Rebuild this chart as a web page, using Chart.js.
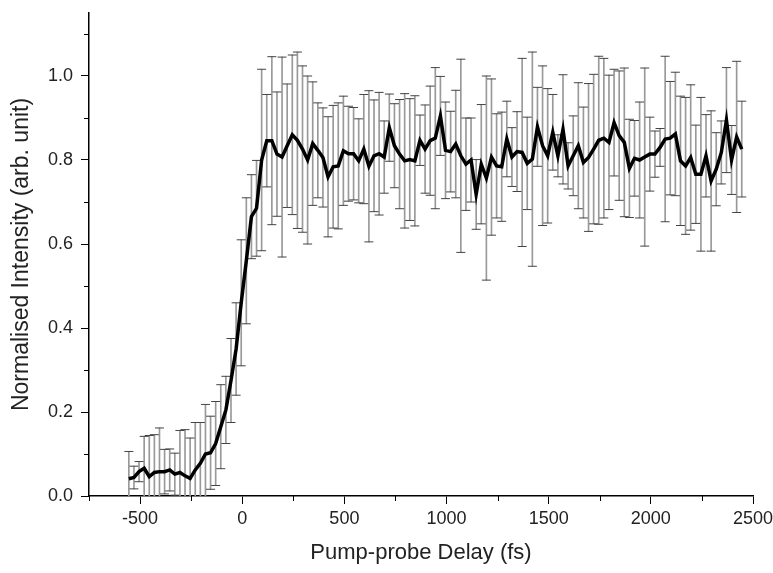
<!DOCTYPE html>
<html>
<head>
<meta charset="utf-8">
<script src="https://cdn.jsdelivr.net/npm/chart.js@4.4.1/dist/chart.umd.min.js"></script>
<style>
html,body{margin:0;padding:0;background:#fff;}
canvas{display:block;}
</style>
</head>
<body>
<canvas id="c" width="773" height="573"></canvas>
<script>
// Pump-probe delay (fs)
const delays = [-555,-530,-505,-480,-455,-430,-405,-380,-355,-330,-305,-280,-255,-230,-205,-180,-155,-130,-105,-80,
  -55,-30,-5,20,45,70,95,120,145,170,195,220,245,270,295,320,345,370,395,420,
  445,470,495,520,545,570,595,620,645,670,695,720,745,770,795,820,845,870,895,920,
  945,970,995,1020,1045,1070,1095,1120,1145,1170,1195,1220,1245,1270,1295,1320,1345,1370,1395,1420,
  1445,1470,1495,1520,1545,1570,1595,1620,1645,1670,1695,1720,1745,1770,1795,1820,1845,1870,1895,1920,
  1945,1970,1995,2020,2045,2070,2095,2120,2145,2170,2195,2220,2245,2270,2295,2320,2345,2370,2395,2420,2445];
// Normalised intensity (arb. unit)
const intensity = [0.041,0.044,0.058,0.066,0.046,0.056,0.058,0.058,0.062,0.052,0.056,0.048,0.042,0.062,0.078,0.100,0.103,0.125,0.165,0.205,
  0.275,0.350,0.460,0.560,0.665,0.685,0.800,0.846,0.846,0.814,0.807,0.834,0.860,0.847,0.826,0.800,0.839,0.823,0.806,0.760,
  0.784,0.786,0.822,0.815,0.815,0.798,0.826,0.785,0.810,0.815,0.807,0.877,0.834,0.814,0.798,0.801,0.798,0.847,0.826,0.846,
  0.852,0.905,0.823,0.820,0.838,0.810,0.790,0.800,0.718,0.790,0.757,0.807,0.786,0.784,0.850,0.807,0.820,0.818,0.792,0.802,
  0.879,0.834,0.810,0.866,0.810,0.873,0.786,0.810,0.834,0.794,0.806,0.826,0.847,0.852,0.842,0.889,0.858,0.842,0.780,0.804,
  0.800,0.807,0.814,0.814,0.830,0.850,0.852,0.862,0.798,0.786,0.806,0.766,0.766,0.810,0.750,0.778,0.818,0.895,0.800,0.855,0.826];
// Error (+/-)
const errors = [0.065,0.027,0.024,0.076,0.098,0.090,0.104,0.053,0.050,0.050,0.100,0.110,0.096,0.113,0.097,0.118,0.087,0.100,0.100,0.080,
  0.100,0.110,0.150,0.150,0.100,0.114,0.216,0.110,0.200,0.148,0.238,0.147,0.190,0.210,0.198,0.200,0.147,0.113,0.118,0.143,
  0.146,0.150,0.130,0.113,0.110,0.100,0.130,0.180,0.133,0.146,0.086,0.080,0.100,0.130,0.160,0.145,0.155,0.060,0.105,0.130,
  0.168,0.094,0.115,0.096,0.128,0.230,0.110,0.100,0.083,0.142,0.243,0.186,0.124,0.130,0.090,0.070,0.095,0.224,0.110,0.255,
  0.094,0.190,0.160,0.090,0.050,0.130,0.055,0.095,0.150,0.132,0.176,0.178,0.200,0.190,0.160,0.127,0.154,0.177,0.117,0.090,
  0.138,0.212,0.088,0.055,0.045,0.197,0.135,0.147,0.154,0.163,0.173,0.117,0.183,0.098,0.167,0.087,0.075,0.125,0.082,0.180,0.114];

const xTickValues = [-500,0,500,1000,1500,2000,2500];
const xMinorValues = [-750,-250,250,750,1250,1750,2250];
const yTickValues = [0,0.2,0.4,0.6,0.8,1.0];
const yMinorValues = [0.1,0.3,0.5,0.7,0.9,1.1];

const meanPts = delays.map((d,i)=>({x:d, y:intensity[i]}));
const barPts = delays.map((d,i)=>({x:d, y:[intensity[i]-errors[i], intensity[i]+errors[i]]}));
const capPts = delays.flatMap((d,i)=>[{x:d, y:intensity[i]-errors[i]},{x:d, y:intensity[i]+errors[i]}]);

Chart.defaults.font.family = "'Liberation Sans', Arial, sans-serif";
Chart.defaults.color = '#222';

const minorTicks = {
  id:'minorTicks',
  afterDraw(chart){
    const {ctx, scales:{x, y}} = chart;
    ctx.save();
    ctx.strokeStyle = '#000';
    ctx.lineWidth = 1;
    ctx.beginPath();
    xMinorValues.forEach(v=>{
      const px = Math.round(x.getPixelForValue(v)) + 0.5;
      ctx.moveTo(px, x.top); ctx.lineTo(px, x.top + 5);
    });
    yMinorValues.forEach(v=>{
      const py = Math.round(y.getPixelForValue(v)) + 0.5;
      ctx.moveTo(y.right, py); ctx.lineTo(y.right - 5, py);
    });
    ctx.stroke();
    ctx.restore();
  }
};

new Chart(document.getElementById('c'), {
  type: 'scatter',
  data: {
    datasets: [
      {type:'line', data: meanPts, showLine:true, borderColor:'#000', borderWidth:3.5, pointRadius:0, tension:0, order:0, clip:0},
      {type:'scatter', data: capPts, pointStyle:'line', pointRadius:4.5, borderColor:'#444', borderWidth:1, backgroundColor:'#444', order:1, clip:0},
      {type:'bar', data: barPts, backgroundColor:'#999', borderWidth:0, barThickness:1, grouped:false, order:2, clip:0}
    ]
  },
  options: {
    responsive:false,
    animation:false,
    devicePixelRatio:1,
    layout:{padding:{left:0, right:20, top:13, bottom:0}},
    plugins:{legend:{display:false}, tooltip:{enabled:false}},
    scales:{
      x:{
        type:'linear', min:-750, max:2500, offset:false,
        afterBuildTicks: s => { s.ticks = xTickValues.map(v=>({value:v})); },
        afterFit: s => { s.height = 77; s.paddingLeft = 0; s.paddingRight = 0; },
        grid:{display:true, drawOnChartArea:false, drawTicks:true, tickLength:8, tickColor:'#000', tickWidth:1, offset:false},
        border:{display:true, color:'#000', width:1.5},
        ticks:{font:{size:18}, color:'#222', padding:4, maxRotation:0, autoSkip:false, callback: v => String(v)},
        title:{display:true, text:'Pump-probe Delay (fs)', font:{size:22}, color:'#222', padding:{top:0, bottom:7}}
      },
      y:{
        type:'linear', min:0, max:1.15,
        afterBuildTicks: s => { s.ticks = yTickValues.map(v=>({value:v})); },
        afterFit: s => { s.width = 89; s.paddingTop = 0; s.paddingBottom = 0; },
        grid:{display:true, drawOnChartArea:false, drawTicks:true, tickLength:8, tickColor:'#000', tickWidth:1},
        border:{display:true, color:'#000', width:1.5},
        ticks:{font:{size:18}, color:'#222', padding:8, callback: v => Number(v).toFixed(1)},
        title:{display:true, text:'Normalised Intensity (arb. unit)', font:{size:23}, color:'#222', padding:{top:8, bottom:0}}
      }
    }
  },
  plugins:[minorTicks]
});
</script>
</body>
</html>
